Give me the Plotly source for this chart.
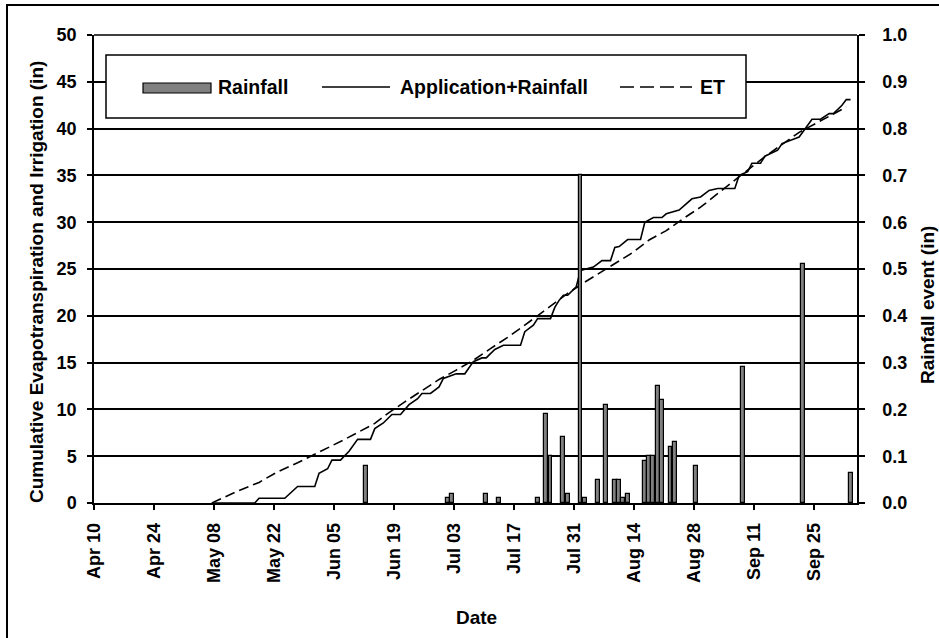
import pandas as pd
import plotly.graph_objects as go

# ---- data -----------------------------------------------------------------
# Daily rainfall events (in), right axis
rain_dates = ["2007-06-12", "2007-07-01", "2007-07-02", "2007-07-10", "2007-07-13",
              "2007-07-22", "2007-07-24", "2007-07-25", "2007-07-28", "2007-07-29",
              "2007-08-01", "2007-08-02", "2007-08-05", "2007-08-07", "2007-08-09",
              "2007-08-10", "2007-08-11", "2007-08-12", "2007-08-16", "2007-08-17",
              "2007-08-18", "2007-08-19", "2007-08-20", "2007-08-22", "2007-08-23",
              "2007-08-28", "2007-09-08", "2007-09-22", "2007-10-03"]
rain_in = [0.08, 0.01, 0.02, 0.02, 0.01,
           0.01, 0.19, 0.10, 0.14, 0.02,
           0.70, 0.01, 0.05, 0.21, 0.05,
           0.05, 0.01, 0.02, 0.09, 0.10,
           0.10, 0.25, 0.22, 0.12, 0.13,
           0.08, 0.29, 0.51, 0.065]

# Cumulative evapotranspiration (in)
et_dates = ["2007-05-07", "2007-05-13", "2007-05-18", "2007-05-22", "2007-05-27",
            "2007-05-31", "2007-06-07", "2007-06-14", "2007-06-17", "2007-06-21",
            "2007-06-25", "2007-06-29", "2007-07-03", "2007-07-07", "2007-07-11",
            "2007-07-15", "2007-07-19", "2007-07-23", "2007-07-29", "2007-08-02",
            "2007-08-06", "2007-08-09", "2007-08-13", "2007-08-17", "2007-08-21",
            "2007-08-25", "2007-08-29", "2007-09-06", "2007-09-13", "2007-09-21",
            "2007-09-27", "2007-10-02"]
et_cum = [0.0, 1.27, 2.2, 3.25, 4.3,
          5.2, 6.8, 8.5, 9.55, 10.8,
          12.0, 13.2, 14.2, 15.25, 16.5,
          17.7, 19.0, 20.4, 22.4, 23.6,
          24.7, 25.6, 26.7, 28.1, 29.1,
          30.4, 31.6, 34.5, 37.0, 39.6,
          41.1, 42.3]

# Cumulative irrigation application plus rainfall (in)
app_dates = ["2007-05-07", "2007-05-17", "2007-05-18", "2007-05-24", "2007-05-27",
             "2007-05-31", "2007-06-01", "2007-06-03", "2007-06-04", "2007-06-06",
             "2007-06-08", "2007-06-10", "2007-06-13", "2007-06-14", "2007-06-16",
             "2007-06-18", "2007-06-20", "2007-06-22", "2007-06-24", "2007-06-25",
             "2007-06-27", "2007-06-29", "2007-06-30", "2007-07-03", "2007-07-05",
             "2007-07-07", "2007-07-09", "2007-07-10", "2007-07-12", "2007-07-14",
             "2007-07-18", "2007-07-19", "2007-07-21", "2007-07-22", "2007-07-25",
             "2007-07-26", "2007-07-27", "2007-07-28", "2007-07-29", "2007-07-31",
             "2007-08-01", "2007-08-04", "2007-08-06", "2007-08-08", "2007-08-09",
             "2007-08-10", "2007-08-12", "2007-08-15", "2007-08-16", "2007-08-18",
             "2007-08-20", "2007-08-21", "2007-08-24", "2007-08-27", "2007-08-29",
             "2007-08-31", "2007-09-02", "2007-09-06", "2007-09-07", "2007-09-09",
             "2007-09-10", "2007-09-12", "2007-09-13", "2007-09-16", "2007-09-17",
             "2007-09-19", "2007-09-21", "2007-09-24", "2007-09-26", "2007-09-28",
             "2007-09-29", "2007-10-01", "2007-10-02", "2007-10-03"]
app_cum = [0.0, 0.0, 0.5, 0.5, 1.76,
           1.76, 3.17, 3.66, 4.58, 4.58,
           5.53, 6.8, 6.8, 7.95, 8.55,
           9.45, 9.45, 10.5, 11.15, 11.7,
           11.7, 12.4, 13.3, 13.8, 13.8,
           15.1, 15.5, 15.5, 16.4, 16.85,
           16.85, 18.3, 19.0, 19.7, 19.7,
           20.9, 21.65, 22.2, 22.2, 23.1,
           24.85, 25.2, 25.9, 25.9, 27.3,
           27.4, 28.15, 28.15, 30.0, 30.5,
           30.5, 30.9, 31.3, 32.5, 32.7,
           33.4, 33.6, 33.6, 35.0, 35.4,
           36.3, 36.3, 37.05, 37.7, 38.4,
           38.75, 39.1, 41.0, 41.0, 41.6,
           41.6, 42.5, 43.1, 43.1]

axis_start = "2007-04-10"
axis_end = "2007-10-05"

# ---- layout geometry (pixels) ---------------------------------------------
FIG_W, FIG_H = 939, 638
L, R, T, B = 94, 857, 35, 503
PW, PH = R - L, B - T
DAY_MS = 86400000
FONT = "Liberation Sans, Arial, sans-serif"


def px(xp):
    return (xp - L) / PW


def py(yp):
    return (B - yp) / PH


def mid_day(dates):
    # daily values sit in the middle of their day slot on the date axis
    return pd.to_datetime(dates) + pd.Timedelta(hours=12)


fig = go.Figure()

fig.add_trace(go.Scatter(
    x=mid_day(et_dates), y=et_cum, mode="lines", name="ET",
    line=dict(color="black", width=1.6, dash="10px,5px"), showlegend=False))

fig.add_trace(go.Scatter(
    x=mid_day(app_dates), y=app_cum, mode="lines", name="Application+Rainfall",
    line=dict(color="black", width=1.6), showlegend=False))

fig.add_trace(go.Bar(
    x=mid_day(rain_dates), y=rain_in, yaxis="y2", name="Rainfall",
    width=0.9 * DAY_MS,
    marker=dict(color="#808080", line=dict(color="black", width=1.2)),
    showlegend=False))

tickfont = dict(family=FONT, size=18, color="black", weight="bold")

fig.update_layout(
    width=FIG_W, height=FIG_H,
    margin=dict(l=L, r=FIG_W - R, t=T, b=FIG_H - B),
    paper_bgcolor="white", plot_bgcolor="white",
    font=dict(family=FONT, size=18, color="black", weight="bold"),
    bargap=0,
    xaxis=dict(
        type="date", range=[axis_start, axis_end],
        tick0=axis_start, dtick=14 * DAY_MS, tickformat="%b %d",
        tickangle=-90, ticks="outside", ticklen=5, tickwidth=1.5, tickcolor="black",
        showline=True, linecolor="black", linewidth=1.5,
        showgrid=False, zeroline=False, tickfont=tickfont, ticklabelstandoff=6),
    yaxis=dict(
        range=[0, 50], dtick=5, ticks="outside", ticklen=5, tickwidth=1.5,
        tickcolor="black", showline=True, linecolor="black", linewidth=1.5,
        showgrid=True, gridcolor="black", gridwidth=1.5, zeroline=False,
        tickfont=tickfont, ticklabelstandoff=7),
    yaxis2=dict(
        overlaying="y", side="right", range=[0, 1], dtick=0.1, tickformat=".1f",
        ticks="outside", ticklen=6, tickwidth=1.5, tickcolor="black",
        showline=True, linecolor="black", linewidth=1.5,
        showgrid=False, zeroline=False, tickfont=tickfont, ticklabelstandoff=14),
)

shapes = [
    # outer chart border
    dict(type="rect", xref="paper", yref="paper", x0=px(7), x1=px(990),
         y0=py(700), y1=py(5), line=dict(color="black", width=2), layer="above"),
    # top edge of plot area
    dict(type="line", xref="paper", yref="paper", x0=0, x1=1, y0=1, y1=1,
         line=dict(color="black", width=1.5)),
    # legend box
    dict(type="rect", xref="paper", yref="paper", x0=px(106), x1=px(746),
         y0=py(118), y1=py(55), fillcolor="white",
         line=dict(color="black", width=1.5), layer="above"),
    # legend: rainfall swatch
    dict(type="rect", xref="paper", yref="paper", x0=px(143), x1=px(211),
         y0=py(93), y1=py(83), fillcolor="#808080",
         line=dict(color="black", width=1.2), layer="above"),
    # legend: application+rainfall line
    dict(type="line", xref="paper", yref="paper", x0=px(322), x1=px(390),
         y0=py(87), y1=py(87), line=dict(color="black", width=1.6), layer="above"),
    # legend: ET dashed line
    dict(type="line", xref="paper", yref="paper", x0=px(620), x1=px(692),
         y0=py(87), y1=py(87), line=dict(color="black", width=1.6, dash="14px,6px"),
         layer="above"),
]

legend_font = dict(family=FONT, size=19.5, color="black", weight="bold")
title_font = dict(family=FONT, size=19, color="black", weight="bold")

annotations = [
    dict(text="Rainfall", x=px(216), y=py(87), xref="paper", yref="paper",
         xanchor="left", yanchor="middle", showarrow=False, font=legend_font),
    dict(text="Application+Rainfall", x=px(398), y=py(87), xref="paper", yref="paper",
         xanchor="left", yanchor="middle", showarrow=False, font=legend_font),
    dict(text="ET", x=px(698), y=py(87), xref="paper", yref="paper",
         xanchor="left", yanchor="middle", showarrow=False, font=legend_font),
    dict(text="Cumulative Evapotranspiration and Irrigation (in)", textangle=-90,
         x=px(36), y=py(282), xref="paper", yref="paper",
         xanchor="center", yanchor="middle", showarrow=False, font=title_font),
    dict(text="Rainfall event (in)", textangle=-90,
         x=px(927), y=py(305), xref="paper", yref="paper",
         xanchor="center", yanchor="middle", showarrow=False, font=title_font),
    dict(text="Date", x=px(476), y=py(617), xref="paper", yref="paper",
         xanchor="center", yanchor="middle", showarrow=False, font=title_font),
]

fig.update_layout(shapes=shapes, annotations=annotations)

fig.write_html("out.html")
